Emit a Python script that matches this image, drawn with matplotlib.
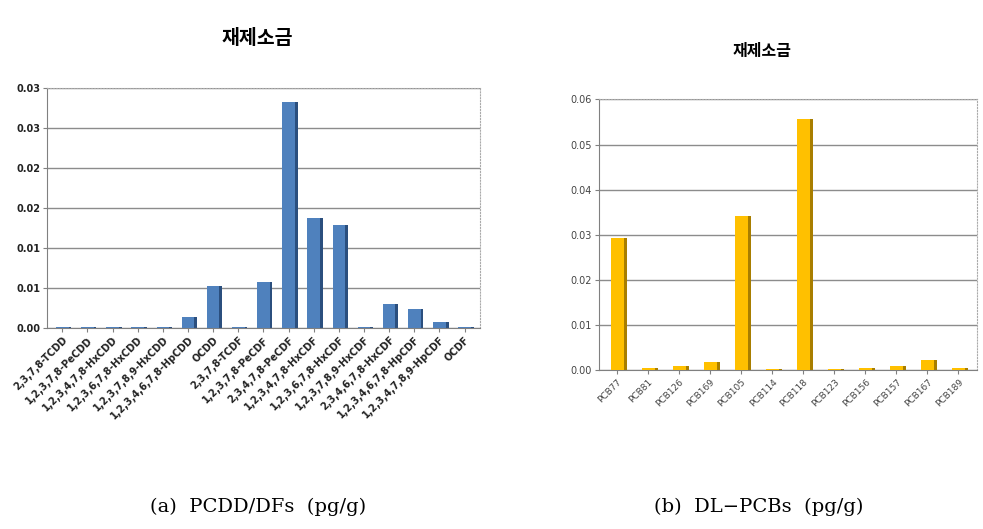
import matplotlib
matplotlib.use("Agg")
import matplotlib.pyplot as plt
import numpy as np

plt.rcParams['font.family'] = ['DejaVu Sans', 'Noto Sans CJK KR']

title_kr = "재제소금"

pcdd_labels = ["2,3,7,8-TCDD", "1,2,3,7,8-PeCDD", "1,2,3,4,7,8-HxCDD", "1,2,3,6,7,8-HxCDD",
               "1,2,3,7,8,9-HxCDD", "1,2,3,4,6,7,8-HpCDD", "OCDD", "2,3,7,8-TCDF",
               "1,2,3,7,8-PeCDF", "2,3,4,7,8-PeCDF", "1,2,3,4,7,8-HxCDF", "1,2,3,6,7,8-HxCDF",
               "1,2,3,7,8,9-HxCDF", "2,3,4,6,7,8-HxCDF", "1,2,3,4,6,7,8-HpCDF",
               "1,2,3,4,7,8,9-HpCDF", "OCDF"]
pcdd_values = [0.0001, 0.0001, 0.0001, 0.0001, 0.0001, 0.0014, 0.0052, 0.0001,
               0.0058, 0.0282, 0.0138, 0.0129, 0.0001, 0.0030, 0.0024, 0.0007, 0.0001]
pcdd_yticks = [0.0, 0.005, 0.01, 0.015, 0.02, 0.025, 0.03]
pcdd_yticklabels = ["0.00", "0.01", "0.01", "0.02", "0.02", "0.03", "0.03"]

pcb_labels = ["PCB77", "PCB81", "PCB126", "PCB169", "PCB105", "PCB114", "PCB118",
              "PCB123", "PCB156", "PCB157", "PCB167", "PCB189"]
pcb_values = [0.0292, 0.0005, 0.0010, 0.0018, 0.0342, 0.0003, 0.0556, 0.0003,
              0.0004, 0.0010, 0.0022, 0.0004]
pcb_yticks = [0.0, 0.01, 0.02, 0.03, 0.04, 0.05, 0.06]
pcb_yticklabels = ["0.00", "0.01", "0.02", "0.03", "0.04", "0.05", "0.06"]

caption_a = "(a)  PCDD/DFs  (pg/g)"
caption_b = "(b)  DL\u2212PCBs  (pg/g)"

fig = plt.figure(figsize=(9.83, 5.29), dpi=100)


def draw(ax, labels, values, yticks, yticklabels, ymax, color, side, width, bold, lab_fs, tick_fs, tick_color):
    x = np.arange(len(labels))
    ax.bar(x + width * 0.22, values, width=width, color=side, zorder=2)
    ax.bar(x, values, width=width, color=color, zorder=3)
    ax.set_xlim(-0.6, len(labels) - 0.4)
    ax.set_ylim(0, ymax)
    ax.set_yticks(yticks)
    ax.set_yticklabels(yticklabels, fontsize=tick_fs, fontweight='bold' if bold else 'normal', color=tick_color)
    ax.set_xticks(x)
    ax.set_xticklabels(labels, rotation=45, ha='right', rotation_mode='anchor',
                       fontsize=lab_fs, fontweight='bold' if bold else 'normal', color=tick_color)
    ax.grid(axis='y', color='#8c8c8c', lw=1.0, zorder=0)
    for s in ['top', 'right']:
        ax.spines[s].set_color('#aaaaaa')
        ax.spines[s].set_linestyle(':')
    for s in ['left', 'bottom']:
        ax.spines[s].set_color('#808080')
    ax.tick_params(axis='both', length=3, color='#808080', pad=2)


ax1 = fig.add_axes([0.048, 0.38, 0.44, 0.454])
draw(ax1, pcdd_labels, pcdd_values, pcdd_yticks, pcdd_yticklabels, 0.03,
     '#4F81BD', '#2B4F7E', 0.5, True, 7, 7, '#222222')

ax2 = fig.add_axes([0.609, 0.30, 0.385, 0.512])
draw(ax2, pcb_labels, pcb_values, pcb_yticks, pcb_yticklabels, 0.06,
     '#FFC000', '#A87E00', 0.42, False, 6.5, 7, '#444444')

fig.text(0.262, 0.928, title_kr, ha='center', va='center', fontsize=14, fontweight='bold',
         family=['Noto Sans CJK KR'])
fig.text(0.775, 0.903, title_kr, ha='center', va='center', fontsize=11.5, fontweight='bold',
         family=['Noto Sans CJK KR'])

fig.text(0.263, 0.042, caption_a, ha='center', va='center', fontsize=14, family=['DejaVu Serif'])
fig.text(0.772, 0.042, caption_b, ha='center', va='center', fontsize=14, family=['DejaVu Serif'])

fig.savefig("out.png", dpi=100)
